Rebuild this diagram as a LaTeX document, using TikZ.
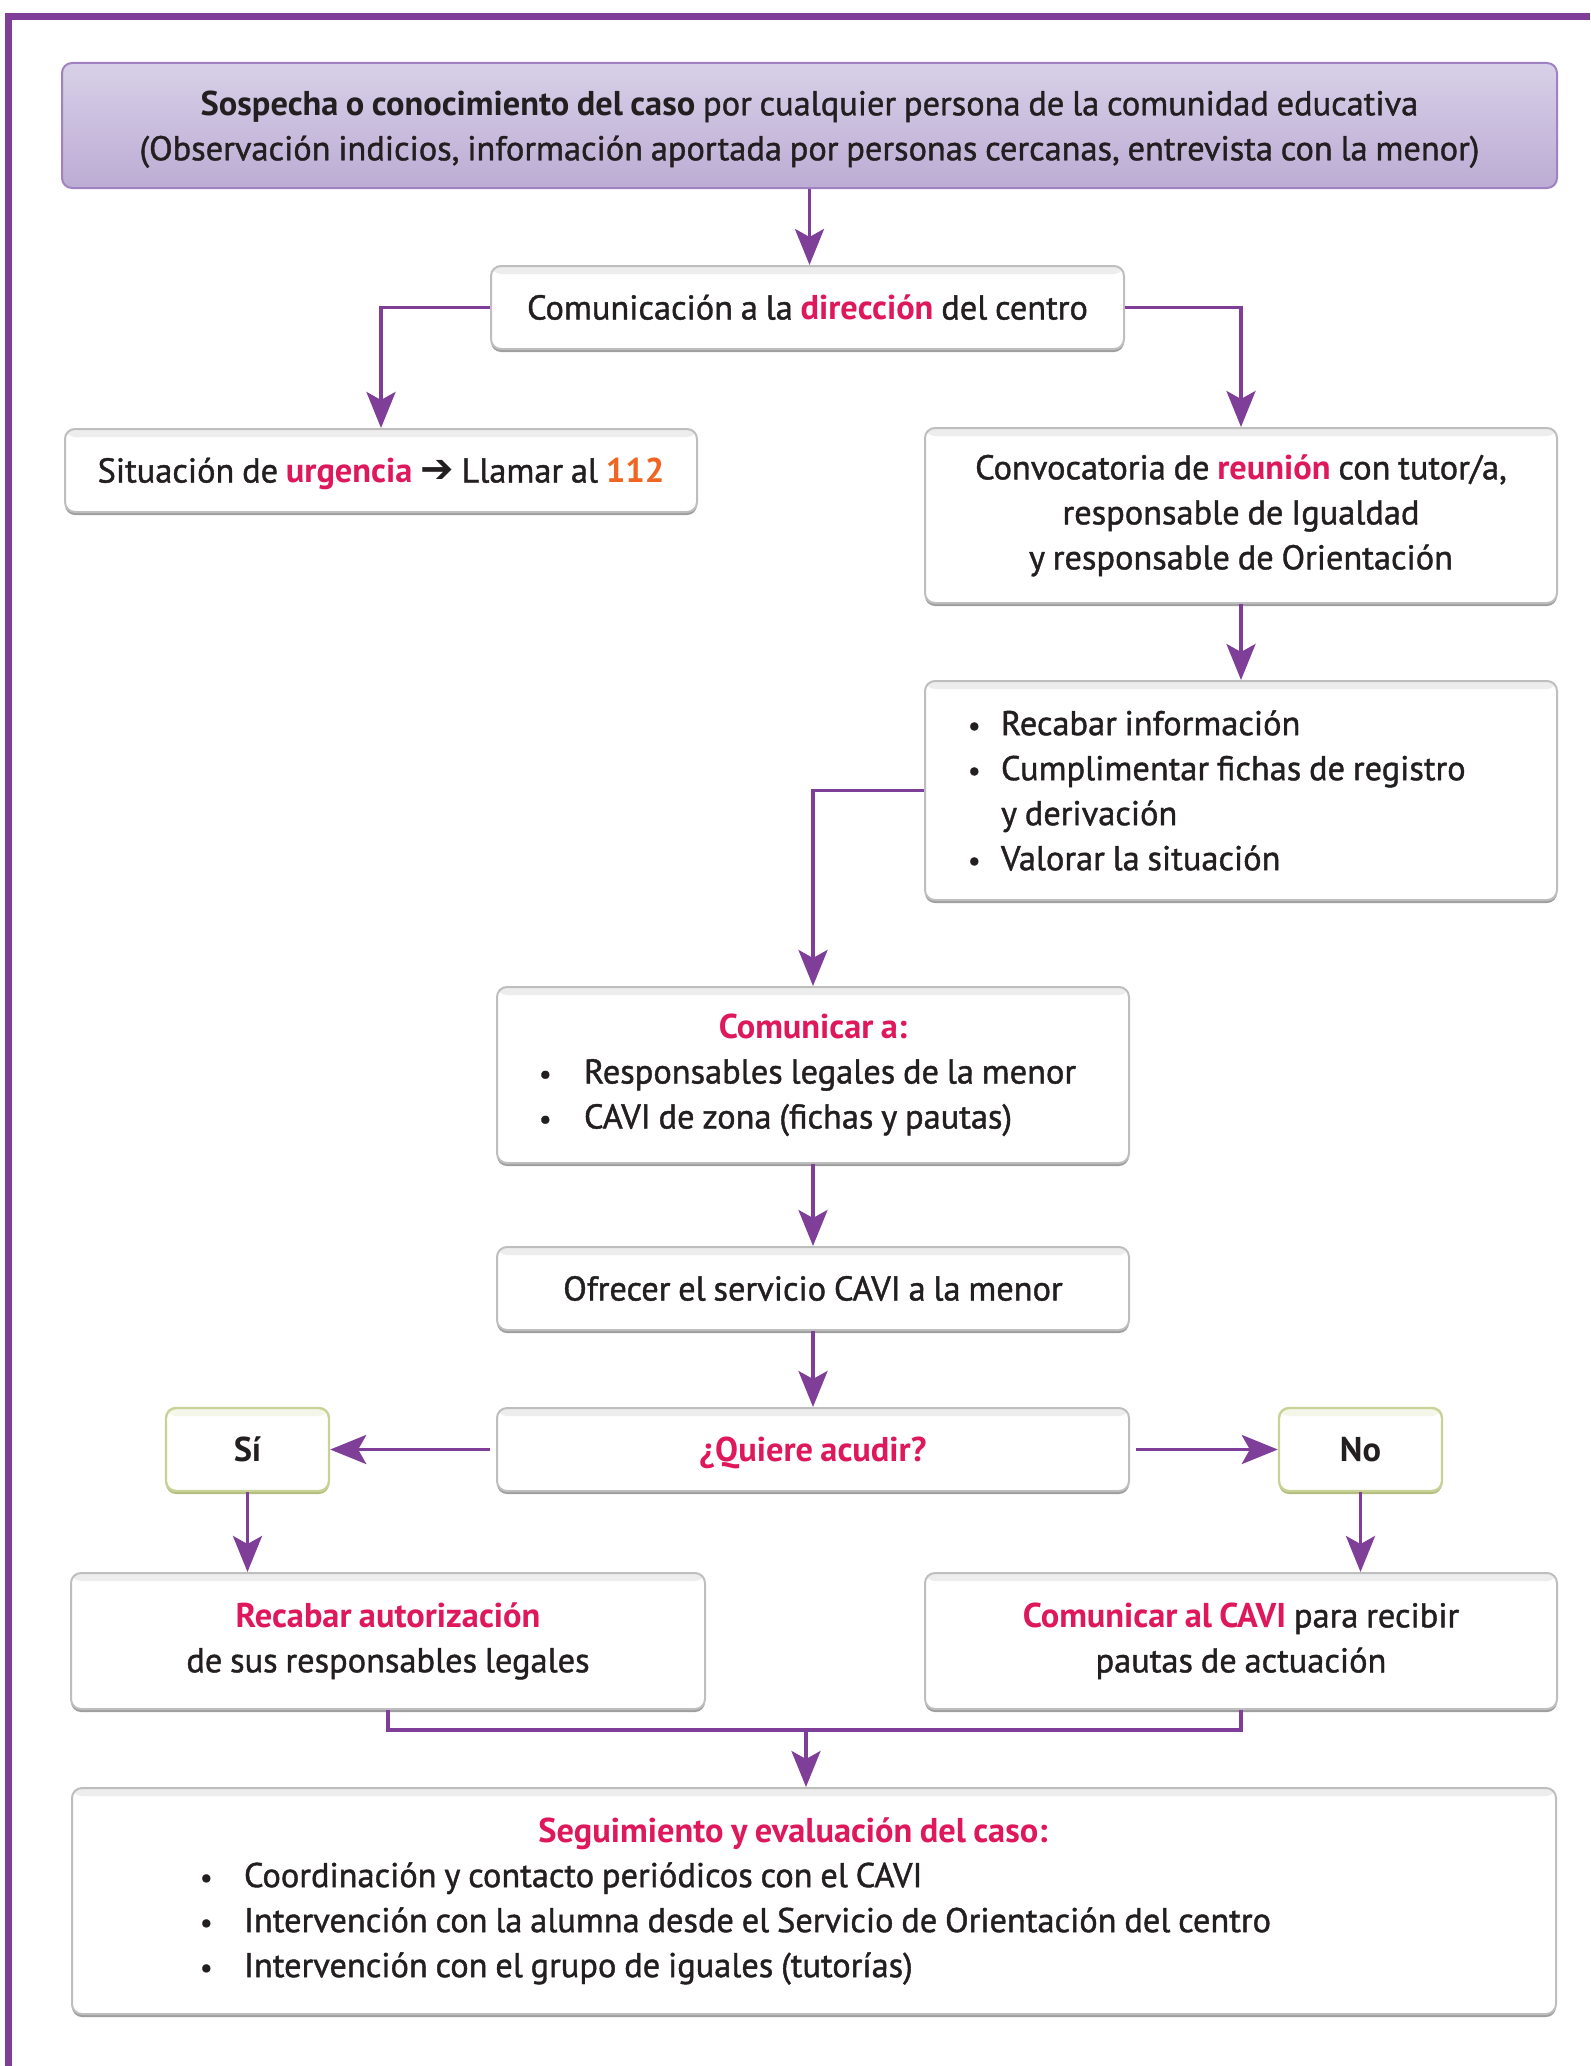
\documentclass[tikz,border=0pt]{standalone}
\usepackage{fontspec}
\setmainfont{PT Sans}[UprightFeatures={FakeBold=1.2}, WordSpace=0.85]
\newfontfamily\dejavu{DejaVu Sans}
\usetikzlibrary{arrows.meta,shadows}
\definecolor{purp}{RGB}{127,63,152}
\definecolor{crim}{RGB}{222,24,90}
\definecolor{orng}{RGB}{241,101,34}
\definecolor{txt}{RGB}{35,31,32}
\definecolor{bord}{RGB}{190,190,190}
\definecolor{shad}{RGB}{158,158,158}
\definecolor{grnb}{RGB}{200,210,150}
\definecolor{grns}{RGB}{178,190,125}
\definecolor{lavt}{RGB}{216,208,232}
\definecolor{lavb}{RGB}{188,172,212}
\definecolor{lavd}{RGB}{160,130,195}
\newcommand{\bul}{{\fontsize{14}{14}\selectfont •}}
\tikzset{
  base/.style={rounded corners=5pt, font=\fontsize{17.2}{22.5}\selectfont, text=txt, inner sep=0pt, align=center, minimum height=41.5pt,
    execute at begin node={\spaceskip=0pt\xspaceskip=0pt\relax}},
  one/.style={text height=12pt, text depth=0pt},
  gbox/.style={base, draw=bord, line width=1pt, fill=white,
    drop shadow={shadow xshift=0pt, shadow yshift=-1.5pt, opacity=1, fill=shad},
    path picture={\fill[black!7] ([yshift=-4pt]path picture bounding box.north west) rectangle (path picture bounding box.north east);}},
  ybox/.style={base, one, draw=grnb, line width=1.2pt, fill=white, minimum width=81.5pt,
    drop shadow={shadow xshift=0pt, shadow yshift=-1.5pt, opacity=1, fill=grns},
    path picture={\fill[grnb!20] ([yshift=-4pt]path picture bounding box.north west) rectangle (path picture bounding box.north east);}},
  lbox/.style={base, draw=lavd, line width=1pt, top color=lavt, bottom color=lavb},
  arr/.style={purp, line width=1.8pt, -{Stealth[length=18pt,width=14.5pt,inset=4pt]}},
  ln/.style={purp, line width=1.8pt},
}
\begin{document}
\begin{tikzpicture}[x=0.5pt,y=-0.5pt]
\useasboundingbox (0,0) rectangle (1590,2066);
% frame
\draw[purp, line width=3.5pt] (1590,16.5) -- (8.5,16.5) -- (8.5,2066);

\node[lbox, minimum width=747.5pt, minimum height=62.5pt, text depth=0pt] (top) at (809.5,125.5)
 {{\bfseries Sospecha o conocimiento del caso} por cualquier persona de la comunidad educativa\\
  (Observación indicios, información aportada por personas cercanas, entrevista con la menor)};

\node[gbox, one, minimum width=316.5pt] (dir) at (807.5,307.5)
 {Comunicación a la {\bfseries\color{crim}dirección} del centro};

\node[gbox, one, minimum width=316pt] (urg) at (381,470.5)
 {Situación de {\bfseries\color{crim}urgencia} {\dejavu\fontsize{20}{20}\selectfont ➔} Llamar al {\bfseries\color{orng}112}};

\node[gbox, minimum width=316pt, minimum height=87.5pt] (conv) at (1241,515.5)
 {Convocatoria de {\bfseries\color{crim}reunión} con tutor/a,\\ responsable de Igualdad\\ y responsable de Orientación};

\node[gbox, minimum height=109.5pt, text width=273pt, inner xsep=21.5pt, align=left] (rec) at (1241,790.5)
 {\makebox[16.5pt][l]{\bul}Recabar información\\
  \makebox[16.5pt][l]{\bul}Cumplimentar fichas de registro\\
  \hspace*{16.5pt}y derivación\\
  \makebox[16.5pt][l]{\bul}Valorar la situación};

\node[gbox, minimum height=88pt, text width=274pt, inner xsep=21pt, align=left] (coma) at (813,1075)
 {\makebox[\linewidth][c]{\bfseries\color{crim}Comunicar a:}\\
  \makebox[22.5pt][l]{\bul}Responsables legales de la menor\\
  \makebox[22.5pt][l]{\bul}CAVI de zona (fichas y pautas)};

\node[gbox, one, minimum width=316pt] (ofr) at (813,1288.5) {Ofrecer el servicio CAVI a la menor};

\node[gbox, one, minimum width=316pt] (qui) at (813,1449.5) {{\bfseries\color{crim}¿Quiere acudir?}};

\node[ybox] (si) at (247.5,1449.5) {\bfseries Sí};
\node[ybox] (no) at (1360.5,1449.5) {\bfseries No};

\node[gbox, minimum width=317pt, minimum height=68pt] (aut) at (388,1641)
 {{\bfseries\color{crim}Recabar autorización}\\ de sus responsables legales};

\node[gbox, minimum width=316pt, minimum height=68pt] (cavi) at (1241,1641)
 {{\bfseries\color{crim}Comunicar al CAVI} para recibir\\ pautas de actuación};

\node[gbox, minimum height=113pt, text width=614pt, inner xsep=64pt, align=left] (seg) at (814,1901)
 {\makebox[\linewidth][c]{\bfseries\color{crim}Seguimiento y evaluación del caso:\hspace{21pt}}\\
  \makebox[22pt][l]{\bul}Coordinación y contacto periódicos con el CAVI\\
  \makebox[22pt][l]{\bul}Intervención con la alumna desde el Servicio de Orientación del centro\\
  \makebox[22pt][l]{\bul}Intervención con el grupo de iguales (tutorías)};

% connectors
\draw[arr] (top.south) -- (top.south |- dir.north);
\draw[arr] (dir.west) -| (urg.north);
\draw[arr] (dir.east) -| (conv.north);
\draw[arr] (conv.south) -- (rec.north);
\draw[arr] (rec.west) -| (coma.north);
\draw[arr] (coma.south) -- (ofr.north);
\draw[arr] (ofr.south) -- (qui.north);
\draw[arr, shorten <=3pt] (qui.west) -- (si.east);
\draw[arr, shorten <=3pt] (qui.east) -- (no.west);
\draw[arr] (si.south) -- (si.south |- aut.north);
\draw[arr] (no.south) -- (no.south |- cavi.north);
\coordinate (jn) at (806,1730);
\draw[ln] (aut.south) |- (jn) -| (cavi.south);
\draw[arr] (jn) -- (jn |- seg.north);
\end{tikzpicture}
\end{document}
